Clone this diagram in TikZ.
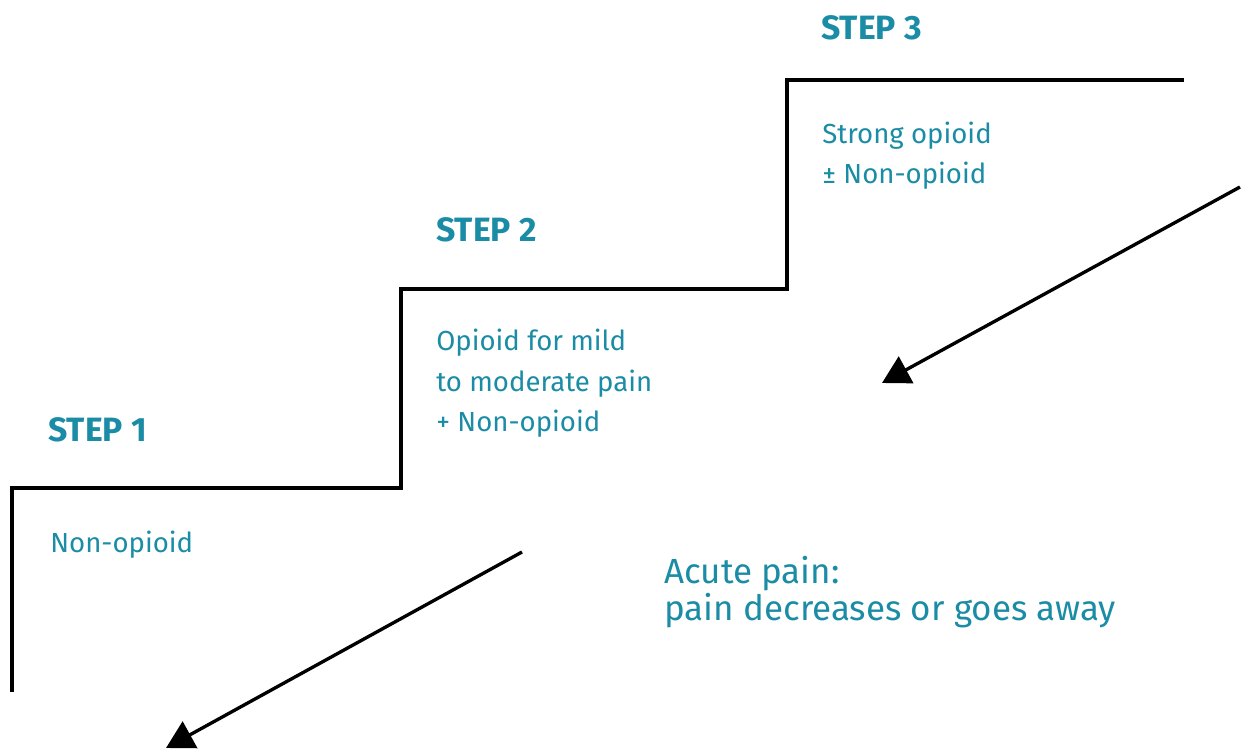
\documentclass[tikz,border=0pt]{standalone}
\usepackage{fontspec}
\setmainfont{Fira Sans}
\usetikzlibrary{arrows.meta}
\definecolor{stepteal}{RGB}{27,140,165}

\begin{document}
\begin{tikzpicture}[x=0.02cm,y=-0.02cm,
    stair/.style={line width=2.2pt},
    painarrow/.style={line width=1.9pt,-{Triangle[length=5.5mm,width=6mm]}},
    steptitle/.style={anchor=base west,inner sep=0pt,text=stepteal,
      font=\fontsize{19.2}{24}\selectfont\bfseries},
    drug/.style={anchor=base west,inner sep=0pt,text=stepteal,align=left,
      font=\fontsize{15.7}{23.2}\selectfont}]
    \useasboundingbox (0,0) rectangle (1242,753);
    % staircase
    \coordinate (S0) at (12,692);
    \coordinate (S1) at (12,488);
    \coordinate (S2) at (401,488);
    \coordinate (S3) at (401,289);
    \coordinate (S4) at (787,289);
    \coordinate (S5) at (787,80);
    \coordinate (S6) at (1184,80);
    \draw[stair] (S0) -- (S1) -- (S2) -- (S3) -- (S4) -- (S5) -- (S6);
    % arrows
    \coordinate (A1s) at (522,552);
    \coordinate (A1e) at (166,748);
    \coordinate (A2s) at (1240,187);
    \coordinate (A2e) at (882,383);
    \draw[painarrow] (A1s) -- (A1e);
    \draw[painarrow] (A2s) -- (A2e);
    % labels (base = last line)
    \node[steptitle] (step1) at (48,441) {STEP 1};
    \node[steptitle] (step2) at (436,242) {STEP 2};
    \node[steptitle] (step3) at (821,40) {STEP 3};
    \node[drug] (drug1) at (50,552) {Non-opioid};
    \node[drug] (drug2) at (436,432) {Opioid for mild\\to moderate pain\\+ Non-opioid};
    \node[drug] (drug3) at (822,184) {Strong opioid\\± Non-opioid};
    \node[drug,font=\fontsize{19.9}{20.6}\selectfont] (acute) at (664,620)
      {Acute pain:\\pain decreases or goes away};
  \end{tikzpicture}
\end{document}
